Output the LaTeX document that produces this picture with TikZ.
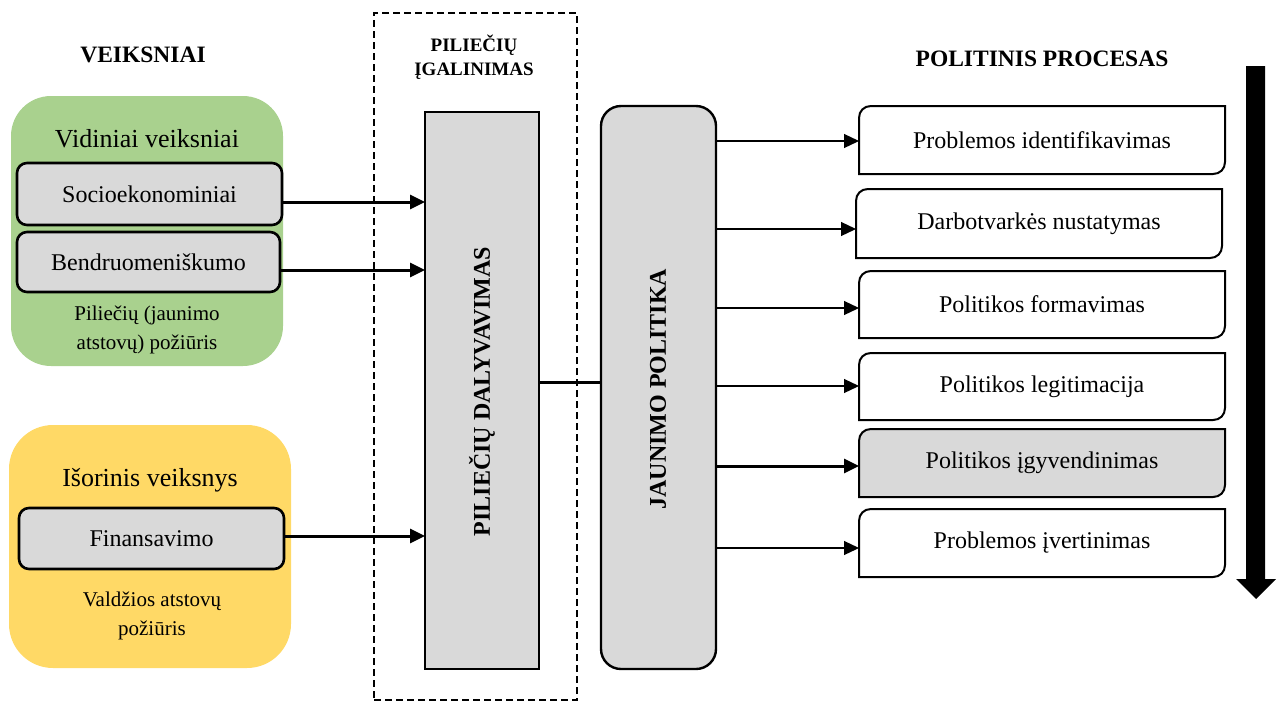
\documentclass[tikz,border=0pt]{standalone}
\usepackage{fontspec}
\setmainfont{Liberation Serif}
\usetikzlibrary{arrows.meta,calc}
\definecolor{vgreen}{HTML}{A9D18E}
\definecolor{vyellow}{HTML}{FFD966}
\definecolor{vgray}{HTML}{D9D9D9}
\newcommand\setfs[1]{\fontsize{#1}{#1}\selectfont}
\pgfdeclarelayer{bg}
\pgfsetlayers{bg,main}
\tikzset{
  every node/.style={inner sep=0pt, outer sep=0pt},
  factorbox/.style={draw=black, line width=2.6pt, fill=vgray, rounded corners=10pt, font=\setfs{24}},
  grouptitle/.style={font=\setfs{26}},
  groupnote/.style={font=\fontsize{21}{29}\selectfont, align=center},
  heading/.style={font=\bfseries\setfs{23.5}},
  thickarr/.style={line width=3pt, -{Triangle[length=15pt,width=14pt]}},
  thinarr/.style={line width=1.2pt, -{Triangle[length=15pt,width=14pt]}},
  procline/.style={draw=black, line width=2pt},
  vtext/.style={rotate=90, font=\bfseries\setfs{24}},
}
% name, x, y, width, height, fill, text
\newcommand\procbox[7]{%
  \node[minimum width=#4pt, minimum height=#5pt, font=\setfs{24}] (#1) at (#2,#3) {#7};
  \begin{pgfonlayer}{bg}
  \draw[procline, fill=#6] (#1.south west) -- ([yshift=-12pt]#1.north west)
    .. controls ([yshift=-5pt]#1.north west) and ([xshift=5pt]#1.north west) .. ([xshift=12pt]#1.north west)
    -- (#1.north east) -- ([yshift=12pt]#1.south east)
    .. controls ([yshift=5pt]#1.south east) and ([xshift=-5pt]#1.south east) .. ([xshift=-12pt]#1.south east)
    -- cycle;
  \end{pgfonlayer}
}
\begin{document}
\begin{tikzpicture}[x=1pt, y=-1pt]
\useasboundingbox (0,0) rectangle (1277,702);

% headings
\node[heading] (hveik) at (143,55) {VEIKSNIAI};
\node[heading] (hpol) at (1042,58.5) {POLITINIS PROCESAS};

% internal factors
\node[fill=vgreen, rounded corners=40pt, minimum width=272pt, minimum height=270pt] (green) at (147,231) {};
\node[grouptitle] (vid) at (147,139) {Vidiniai veiksniai};
\node[factorbox, minimum width=265pt, minimum height=62pt] (socio) at (149.5,194) {Socioekonominiai};
\node[factorbox, minimum width=263pt, minimum height=60pt] (bendr) at (148.5,262) {Bendruomeniškumo};
\node[groupnote] (pilnote) at (147,330) {Piliečių (jaunimo\\atstovų) požiūris};

% external factor
\node[fill=vyellow, rounded corners=44pt, minimum width=282pt, minimum height=243pt] (yellow) at (150,546.5) {};
\node[grouptitle] (isor) at (150,480) {Išorinis veiksnys};
\node[factorbox, minimum width=265pt, minimum height=61pt] (fin) at (151.5,538.5) {Finansavimo};
\node[groupnote] (valdnote) at (152,616) {Valdžios atstovų\\požiūris};

% empowerment frame
\node[draw=black, line width=2pt, dash pattern=on 7pt off 4pt, minimum width=203pt, minimum height=687pt] (frame) at (475.5,356.5) {};
\node[font=\bfseries\fontsize{19}{24}\selectfont, align=center] (igal) at (474,57.5) {PILIEČIŲ\\ĮGALINIMAS};

% participation
\node[draw=black, line width=2.4pt, fill=vgray, minimum width=114pt, minimum height=557pt] (pd) at (482,390.5) {};
\node[vtext] (pdtext) at (482,391.5) {PILIEČIŲ DALYVAVIMAS};

% youth policy
\node[draw=black, line width=2.4pt, fill=vgray, rounded corners=20pt, minimum width=115pt, minimum height=563pt] (jp) at (658.5,387.5) {};
\node[vtext] (jptext) at (658,389) {JAUNIMO POLITIKA};

% arrows from factors
\draw[thickarr] ([yshift=-8pt]socio.east) coordinate (s1) -- (s1 -| pd.west);
\draw[thickarr] ([yshift=-8pt]bendr.east) coordinate (s2) -- (s2 -| pd.west);
\draw[thickarr] ([yshift=2.5pt]fin.east) coordinate (s3) -- (s3 -| pd.west);
\draw[line width=3pt] ([yshift=8.5pt]pd.east) coordinate (c0) -- (c0 -| jp.west);

% policy process
\procbox{b1}{1042}{140}{366}{68}{white}{Problemos identifikavimas}
\procbox{b2}{1039}{223.5}{366}{69}{white}{Darbotvarkės nustatymas}
\procbox{b3}{1042}{304.5}{366}{67}{white}{Politikos formavimas}
\procbox{b4}{1042}{386.5}{366}{67}{white}{Politikos legitimacija}
\procbox{b5}{1042}{463}{366}{68}{vgray}{Politikos įgyvendinimas}
\procbox{b6}{1042}{543}{366}{68}{white}{Problemos įvertinimas}

\coordinate (t1) at ([yshift=-1pt]b1.west);
\coordinate (t2) at ([yshift=-5.5pt]b2.west);
\coordinate (t3) at ([yshift=-3.5pt]b3.west);
\coordinate (t4) at ([yshift=0.5pt]b4.west);
\coordinate (t5) at ([yshift=-3pt]b5.west);
\coordinate (t6) at ([yshift=-5pt]b6.west);
\draw[thinarr] (t1 -| jp.east) -- (t1);
\draw[thinarr] (t2 -| jp.east) -- (t2);
\draw[thinarr] (t3 -| jp.east) -- (t3);
\draw[thinarr] (t4 -| jp.east) -- (t4);
\draw[thickarr] (t5 -| jp.east) -- (t5);
\draw[thinarr] (t6 -| jp.east) -- (t6);

% big downward arrow
\fill[black] (1246,66) -- (1265,66) -- (1265,579) -- (1276,579) -- (1256,599) -- (1236,579) -- (1246,579) -- cycle;
\end{tikzpicture}
\end{document}
